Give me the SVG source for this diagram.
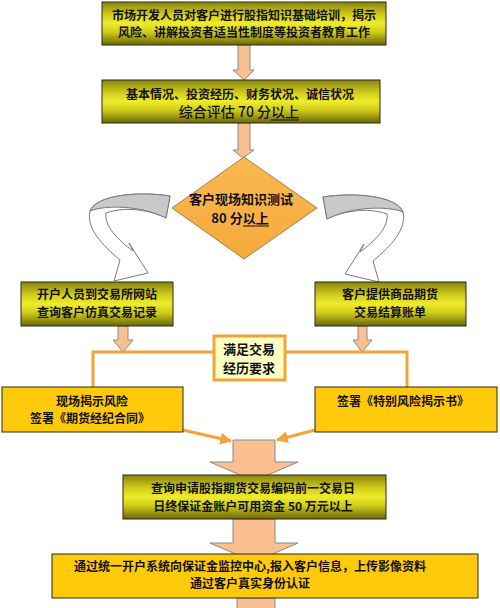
<svg xmlns="http://www.w3.org/2000/svg" width="500" height="608" viewBox="0 0 500 608">
<defs>
<linearGradient id="olive" x1="0" y1="0" x2="0" y2="1">
<stop offset="0" stop-color="#88840f"/>
<stop offset="0.3" stop-color="#d2ce1c"/>
<stop offset="0.5" stop-color="#eeec2a"/>
<stop offset="0.7" stop-color="#cfcb1a"/>
<stop offset="1" stop-color="#6a660a"/>
</linearGradient>
<linearGradient id="dia" x1="0" y1="0" x2="0" y2="1">
<stop offset="0" stop-color="#f9b850"/>
<stop offset="1" stop-color="#f6a93c"/>
</linearGradient>
<marker id="oa" viewBox="0 0 10 10" refX="9" refY="5" markerWidth="4" markerHeight="4" orient="auto" markerUnits="strokeWidth">
<path d="M0,0 L10,5 L0,10 Z" fill="#f4a33a"/>
</marker>
<path id="curl" d="M170,196 C138,191 96,195 90,211 C86,228 102,245 120,260 L114,281 L148,273 L129,243 L133,251 C118,240 104,226 106,213 C125,206 150,210 166,218 Z"/>
<path id="band" d="M170,196 C138,191 96,195 90,211 C105,205 140,205 166,218 Z"/>
</defs>
<style>
.ob{fill:url(#olive);stroke:#2b2b10;stroke-width:1}
.gb{fill:#ffc90c;stroke:#2b2b10;stroke-width:1}
.pa{fill:#fac090;stroke:#8a8a8a;stroke-width:1}
.t{font-family:"Noto Sans CJK SC","Noto Sans",sans-serif;font-weight:700;font-size:12px;fill:#111;text-anchor:middle}
.t13{font-size:13px}
.big{font-size:14px;font-weight:500}
.ul{stroke:#111;stroke-width:1}
.oc{fill:none;stroke:#f4a33a;stroke-width:3}
.cw{fill:#ffffff;stroke:#7a7a7a;stroke-width:1}
.cg{fill:#c8c8c8;stroke:#7a7a7a;stroke-width:1}
</style>
<rect width="500" height="608" fill="#ffffff"/>

<g id="connectors">
<path class="pa" d="M238,45 L250,45 L250,70 L254,70 L244,80 L233,70 L238,70 Z"/>
<path class="pa" d="M238,123 L250,123 L250,150 L254,150 L243,158 L233,150 L238,150 Z"/>
<path class="pa" d="M118,326 L128,326 L128,340 L133,340 L123,352 L113,340 L118,340 Z"/>
<path class="pa" d="M358,326 L367,326 L367,340 L372,340 L362,352 L353,340 L358,340 Z"/>
<path class="pa" d="M233,440 L275,440 L275,462 L298,462 L254,481 L210,462 L233,462 Z"/>
<path class="pa" d="M233,519 L275,519 L275,543 L298,543 L254,562 L210,543 L233,543 Z"/>
<path class="pa" d="M237,598 L275,598 L275,610 L237,610 Z"/>
<g id="curl-left">
<use href="#curl" class="cw"/>
<use href="#band" class="cg"/>
</g>
<g id="curl-right" transform="translate(493,1) scale(-1,1)">
<use href="#curl" class="cw"/>
<use href="#band" class="cg"/>
</g>
<path class="oc" d="M93,387 L93,352 L407,352 L407,387"/>
<line class="oc" x1="183" y1="430" x2="231" y2="441" marker-end="url(#oa)"/>
<line class="oc" x1="315" y1="430" x2="277" y2="440" marker-end="url(#oa)"/>
</g>

<g id="n1">
<rect class="ob" x="102" y="2" width="284" height="43"/>
<text class="t" x="244" y="20">市场开发人员对客户进行股指知识基础培训，揭示</text>
<text class="t" x="244" y="37">风险、讲解投资者适当性制度等投资者教育工作</text>
</g>

<g id="n2">
<rect class="ob" x="102" y="80" width="278" height="43"/>
<text class="t" x="240" y="99">基本情况、投资经历、财务状况、诚信状况</text>
<text class="t big" x="239" y="117">综合评估 70 分以上</text>
<line class="ul" x1="271" y1="120" x2="299" y2="120"/>
</g>

<g id="n3">
<path d="M244,157 L317,208 L244,259 L172,208 Z" fill="url(#dia)" stroke="#a08050" stroke-width="1"/>
<text class="t t13" x="241" y="204">客户现场知识测试</text>
<text class="t t13" x="240" y="223">80 分以上</text>
<line class="ul" x1="243" y1="226" x2="269" y2="226"/>
</g>

<g id="n4">
<rect class="ob" x="21" y="282" width="152" height="44"/>
<text class="t" x="97" y="299">开户人员到交易所网站</text>
<text class="t" x="97" y="317">查询客户仿真交易记录</text>
</g>

<g id="n5">
<rect class="ob" x="315" y="282" width="151" height="44"/>
<text class="t" x="390" y="299">客户提供商品期货</text>
<text class="t" x="390" y="317">交易结算账单</text>
</g>

<g id="n6">
<rect x="214" y="336" width="71" height="44" fill="#ffffc4" stroke="#f4a33a" stroke-width="3"/>
<text class="t t13" x="249" y="354">满足交易</text>
<text class="t t13" x="249" y="373">经历要求</text>
</g>

<g id="n7">
<rect class="gb" x="2" y="387" width="181" height="45"/>
<text class="t" x="92" y="406">现场揭示风险</text>
<text class="t" x="90" y="423">签署《期货经纪合同》</text>
</g>

<g id="n8">
<rect class="gb" x="315" y="387" width="182" height="45"/>
<text class="t" x="403" y="406">签署《特别风险揭示书》</text>
</g>

<g id="n9">
<rect class="ob" x="123" y="475" width="263" height="44"/>
<text class="t" x="253" y="493">查询申请股指期货交易编码前一交易日</text>
<text class="t" x="253" y="511">日终保证金账户可用资金 50 万元以上</text>
</g>

<g id="n10">
<rect class="gb" x="52" y="554" width="426" height="44"/>
<text class="t" x="250" y="571">通过统一开户系统向保证金监控中心,报入客户信息，上传影像资料</text>
<text class="t" x="250" y="588">通过客户真实身份认证</text>
</g>
</svg>
